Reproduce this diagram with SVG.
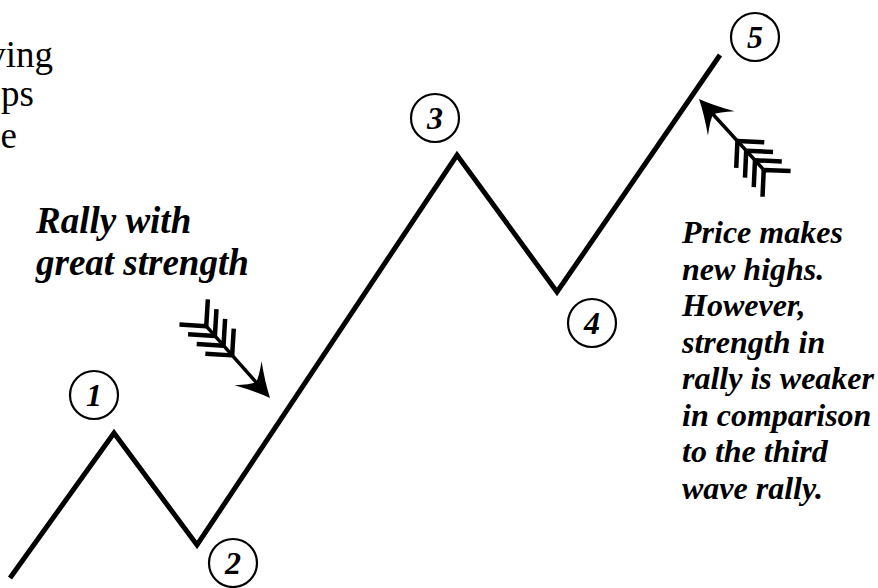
<svg xmlns="http://www.w3.org/2000/svg" xmlns:xlink="http://www.w3.org/1999/xlink" width="878" height="588" viewBox="0 0 878 588">
<style>
.bg{fill:#fff}
.wave{fill:none;stroke:#000;stroke-width:5;stroke-linejoin:miter;stroke-miterlimit:10;stroke-linecap:butt}
.ring{fill:none;stroke:#000;stroke-width:2.2}
.num{font-family:"Liberation Serif","Times New Roman",serif;font-weight:bold;font-style:italic;font-size:32px;fill:#000;text-anchor:middle}
.lbl{font-family:"Liberation Serif","Times New Roman",serif;font-weight:bold;font-style:italic;fill:#000}
.cut{font-family:"Liberation Serif","Times New Roman",serif;font-size:37px;fill:#000;text-anchor:end}
.shaft{stroke:#000;stroke-width:3.5;fill:none}
.fth{stroke:#000;stroke-width:4.5;fill:none;stroke-linecap:butt}
</style>
<defs>
<g id="fletchArrow">
<line class="shaft" x1="-96" y1="0" x2="-18" y2="0"/>
<path d="M0,0 Q-14,-6 -33,-18 Q-23,-6 -21,0 Q-23,6 -33,18 Q-14,6 0,0 Z" fill="#000"/>
<path class="fth" d="M-57,0 l-19,-19 M-57,0 l-19,19 M-70,0 l-19,-19 M-70,0 l-19,19 M-83,0 l-19,-19 M-83,0 l-19,19 M-96,0 l-19,-19 M-96,0 l-19,19"/>
</g>
</defs>
<rect class="bg" x="0" y="0" width="878" height="588"/>

<g id="cut-text">
<text class="cut" x="53" y="67">ving</text>
<text class="cut" x="34" y="106">ps</text>
<text class="cut" x="17" y="148">e</text>
</g>

<g id="connectors">
<polyline id="wave" class="wave" points="10,578 114,433 197,545 457,155 557,292 720,55"/>
<use id="arrow-strength" xlink:href="#fletchArrow" href="#fletchArrow" transform="translate(270,398) rotate(48.4)"/>
<use id="arrow-weak" xlink:href="#fletchArrow" href="#fletchArrow" transform="translate(699,99) rotate(227.6)"/>
</g>

<g id="node-1"><circle class="ring" cx="94" cy="395" r="24"/><text class="num" x="94" y="406">1</text></g>
<g id="node-2"><circle class="ring" cx="233" cy="563" r="24"/><text class="num" x="233" y="574">2</text></g>
<g id="node-3"><circle class="ring" cx="435" cy="118" r="24"/><text class="num" x="435" y="129">3</text></g>
<g id="node-4"><circle class="ring" cx="592" cy="323" r="24"/><text class="num" x="592" y="334">4</text></g>
<g id="node-5"><circle class="ring" cx="755" cy="37" r="24"/><text class="num" x="755" y="48">5</text></g>

<g id="label-rally">
<text class="lbl" font-size="37" x="36" y="233">Rally with</text>
<text class="lbl" font-size="37" x="36" y="275">great strength</text>
</g>

<g id="label-weaker">
<text class="lbl" font-size="32" x="682" y="243">Price makes</text>
<text class="lbl" font-size="32" x="682" y="279.5">new highs.</text>
<text class="lbl" font-size="32" x="682" y="316">However,</text>
<text class="lbl" font-size="32" x="682" y="352.5">strength in</text>
<text class="lbl" font-size="32" x="682" y="389">rally is weaker</text>
<text class="lbl" font-size="32" x="682" y="425.5">in comparison</text>
<text class="lbl" font-size="32" x="682" y="462">to the third</text>
<text class="lbl" font-size="32" x="682" y="498.5">wave rally.</text>
</g>
</svg>
